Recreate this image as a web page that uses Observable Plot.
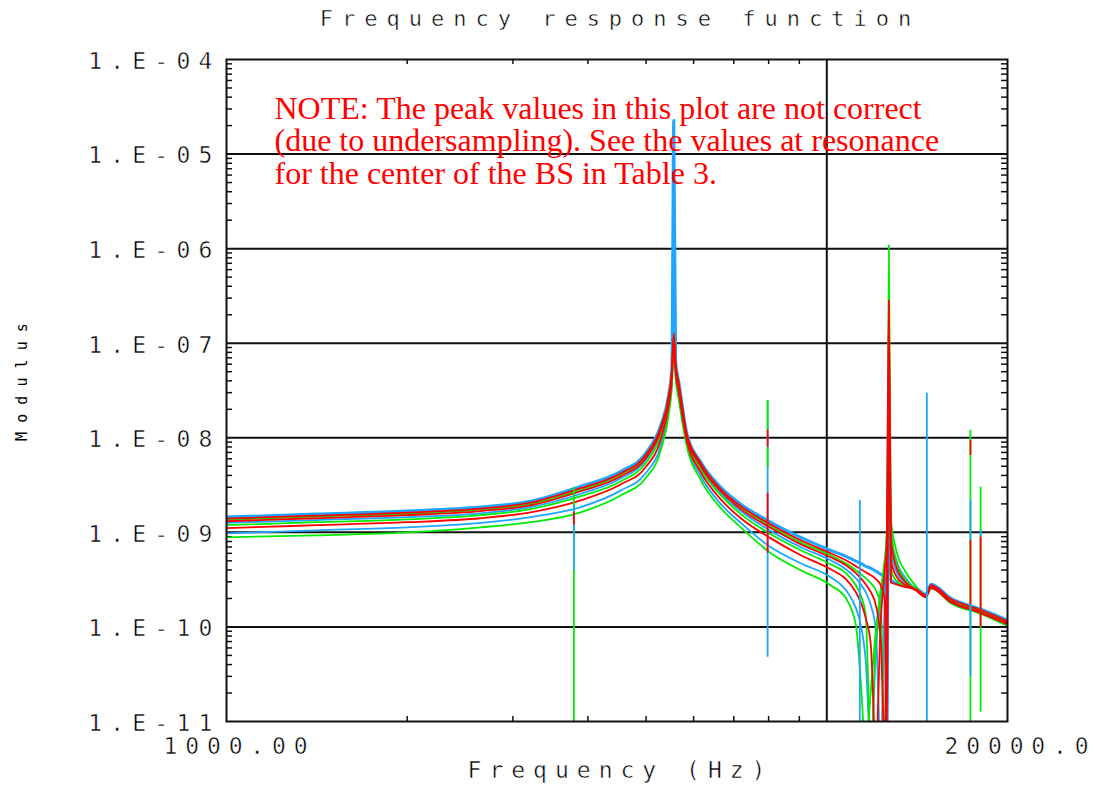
<!DOCTYPE html>
<html><head><meta charset="utf-8">
<script src="https://cdn.jsdelivr.net/npm/d3@7"></script>
<script src="https://cdn.jsdelivr.net/npm/@observablehq/plot@0.6"></script>
<style>
html,body{margin:0;padding:0;background:#fff;}
</style></head><body><div id="chart"></div>
<script>
// ---- data (Modulus vs frequency) ----
const freq = [1000, 1410, 2000, 2650, 3210, 3890, 4540, 4990, 5290, 5450, 5520, 5560, 5600, 5670, 5840, 6170, 6660, 7190, 8070, 9050, 10150, 10760, 11180, 11390, 11610, 11840, 12070, 12300, 12490, 12590, 12690, 12790, 13030, 13540, 14070, 14620, 14910, 16090, 18060, 20000];

const c9 = [1.45e-9, 1.56e-9, 1.68e-9, 1.85e-9, 2.14e-9, 3.07e-9, 4.42e-9, 6.85e-9, 1.36e-8, 2.82e-8, 5.42e-8, 2.27e-5, 6.27e-8, 3.86e-8, 1.15e-8, 5.50e-9, 3.00e-9, 1.99e-9, 1.28e-9, 8.86e-10, 6.46e-10, 5.58e-10, 4.95e-10, 4.71e-10, 4.38e-10, 4.17e-10, 3.88e-10, 3.61e-10, 3.35e-10, 5e-12, 4.04e-8, 3.12e-10, 2.90e-10, 2.70e-10, 2.57e-10, 2.22e-10, 2.83e-10, 2.01e-10, 1.54e-10, 1.18e-10];
const c8 = [1.40e-9, 1.50e-9, 1.62e-9, 1.78e-9, 2.06e-9, 2.93e-9, 4.21e-9, 6.52e-9, 1.29e-8, 2.68e-8, 5.16e-8, 1.28e-7, 5.98e-8, 3.68e-8, 1.12e-8, 5.37e-9, 2.85e-9, 1.89e-9, 1.21e-9, 8.24e-10, 6.01e-10, 5.07e-10, 4.38e-10, 4.07e-10, 3.79e-10, 3.52e-10, 3.20e-10, 2.76e-10, 1.92e-10, 5e-12, 1.37e-7, 2.97e-10, 2.83e-10, 2.63e-10, 2.51e-10, 2.17e-10, 2.76e-10, 1.97e-10, 1.51e-10, 1.15e-10];
const c7 = [1.36e-9, 1.47e-9, 1.57e-9, 1.74e-9, 1.99e-9, 2.82e-9, 4.11e-9, 6.37e-9, 1.26e-8, 2.62e-8, 5.04e-8, 1.22e-7, 5.83e-8, 3.59e-8, 1.09e-8, 5.24e-9, 2.78e-9, 1.85e-9, 1.16e-9, 7.84e-10, 5.72e-10, 4.71e-10, 3.98e-10, 3.61e-10, 3.27e-10, 2.90e-10, 2.45e-10, 1.70e-10, 5e-12, 1.92e-10, 1.09e-6, 3.98e-10, 3.12e-10, 2.70e-10, 2.51e-10, 2.17e-10, 2.70e-10, 1.92e-10, 1.47e-10, 1.13e-10];
const c6 = [1.31e-9, 1.41e-9, 1.52e-9, 1.68e-9, 1.93e-9, 2.72e-9, 3.92e-9, 6.06e-9, 1.20e-8, 2.56e-8, 4.92e-8, 1.15e-7, 5.69e-8, 3.50e-8, 1.07e-8, 4.99e-9, 2.72e-9, 1.76e-9, 1.11e-9, 7.47e-10, 5.45e-10, 4.49e-10, 3.70e-10, 3.27e-10, 2.83e-10, 2.33e-10, 1.70e-10, 7.22e-11, 5e-12, 5.07e-10, 2.84e-7, 5.07e-10, 3.52e-10, 2.76e-10, 2.45e-10, 2.11e-10, 2.63e-10, 1.87e-10, 1.43e-10, 1.10e-10];
const c5 = [1.26e-9, 1.35e-9, 1.45e-9, 1.59e-9, 1.85e-9, 2.56e-9, 3.73e-9, 5.78e-9, 1.15e-8, 2.43e-8, 4.80e-8, 8.56e-6, 5.56e-8, 3.42e-8, 1.04e-8, 4.87e-9, 2.59e-9, 1.68e-9, 1.03e-9, 6.95e-10, 5.07e-10, 4.07e-10, 3.27e-10, 2.83e-10, 2.33e-10, 1.70e-10, 9.21e-11, 5e-12, 1.92e-10, 5.07e-10, 1.37e-7, 6.46e-10, 3.98e-10, 2.90e-10, 2.45e-10, 2.11e-10, 2.57e-10, 1.87e-10, 1.43e-10, 1.10e-10];
const c4 = [1.19e-9, 1.28e-9, 1.37e-9, 1.52e-9, 1.76e-9, 2.41e-9, 3.47e-9, 5.37e-9, 1.07e-8, 2.32e-8, 4.58e-8, 1.13e-7, 5.29e-8, 3.26e-8, 1.02e-8, 4.64e-9, 2.47e-9, 1.56e-9, 9.53e-10, 6.46e-10, 4.60e-10, 3.70e-10, 2.76e-10, 2.17e-10, 1.33e-10, 5e-12, 7.22e-11, 2.45e-10, 5.07e-10, 1.05e-9, 9.39e-9, 1.05e-9, 5.07e-10, 3.12e-10, 2.51e-10, 2.11e-10, 2.57e-10, 1.87e-10, 1.43e-10, 1.07e-10];
const c3 = [1.11e-9, 1.19e-9, 1.28e-9, 1.41e-9, 1.63e-9, 2.18e-9, 3.22e-9, 4.87e-9, 9.62e-9, 2.16e-8, 4.24e-8, 1.08e-7, 5.04e-8, 3.02e-8, 9.62e-9, 4.30e-9, 2.23e-9, 1.41e-9, 8.64e-10, 5.72e-10, 4.07e-10, 3.20e-10, 2.33e-10, 1.83e-10, 1.24e-10, 6.40e-11, 5e-12, 1.18e-10, 3.98e-10, 8.24e-10, 1.53e-8, 8.24e-10, 4.49e-10, 2.97e-10, 2.45e-10, 2.06e-10, 2.57e-10, 1.83e-10, 1.40e-10, 1.07e-10];
const c2 = [9.76e-10, 1.05e-9, 1.13e-9, 1.26e-9, 1.45e-9, 1.85e-9, 2.78e-9, 4.21e-9, 8.31e-9, 1.91e-8, 3.86e-8, 1.08e-7, 4.58e-8, 2.74e-8, 8.94e-9, 3.92e-9, 1.99e-9, 1.26e-9, 6.95e-10, 4.71e-10, 3.35e-10, 2.45e-10, 1.58e-10, 1.05e-10, 4.43e-11, 5e-12, 5.66e-11, 1.92e-10, 4.49e-10, 8.24e-10, 4.52e-9, 1.05e-9, 5.32e-10, 3.27e-10, 2.51e-10, 2.06e-10, 2.57e-10, 1.83e-10, 1.40e-10, 1.07e-10];
const c1 = [8.86e-10, 9.30e-10, 1.00e-9, 1.13e-9, 1.28e-9, 1.63e-9, 2.47e-9, 3.73e-9, 7.37e-9, 1.73e-8, 3.59e-8, 1.03e-7, 4.24e-8, 2.48e-8, 8.31e-9, 3.55e-9, 1.80e-9, 1.13e-9, 6.01e-10, 3.98e-10, 2.76e-10, 2.01e-10, 1.05e-10, 2.72e-11, 5e-12, 2.14e-11, 9.21e-11, 2.45e-10, 5.07e-10, 9.30e-10, 5.78e-9, 1.35e-9, 6.78e-10, 3.79e-10, 2.70e-10, 2.06e-10, 2.57e-10, 1.78e-10, 1.37e-10, 1.02e-10];

// drawing order and colour family of each curve
const seriesValues = [c9, c5, c2, c7, c4, c1, c8, c6, c3];
const seriesFamily = ["blue", "blue", "blue", "green", "green", "green", "red", "red", "red"];

// undersampled spikes: frequency, top and bottom modulus, colour family
const spikeFreq   = [3790, 3790, 3790, 7970, 7970, 7970, 7970, 7970, 11350, 14680, 17350, 17350, 17350, 17350, 17350, 18040, 18040, 18040];
const spikeTop    = [3.00e-9, 1.93e-9, 1.63e-9, 2.48e-8, 2.48e-8, 1.20e-8, 7.92e-9, 2.59e-9, 2.18e-9, 2.95e-8, 1.20e-8, 9.4e-9, 2.2e-9, 8.2e-10, 1.7e-10, 3.00e-9, 1.05e-9, 8.9e-10];
const spikeBottom = [5e-12, 3.98e-10, 1.19e-9, 4.77e-11, 1.20e-8, 7.92e-9, 4.87e-9, 6.01e-10, 5e-12, 5e-12, 5e-12, 6.5e-9, 8.2e-10, 1.7e-10, 3e-11, 1.26e-11, 8.9e-10, 1.0e-10];
const spikeFamily = ["green", "blue", "red", "blue", "green", "red", "green", "red", "blue", "blue", "green", "red", "blue", "red", "blue", "green", "blue", "red"];

// axes
const yTickValues = [1e-4, 1e-5, 1e-6, 1e-7, 1e-8, 1e-9, 1e-10, 1e-11];
const yTickLabels = ["1.E-04", "1.E-05", "1.E-06", "1.E-07", "1.E-08", "1.E-09", "1.E-10", "1.E-11"];
const yGridValues = [1e-5, 1e-6, 1e-7, 1e-8, 1e-9, 1e-10];
const xTickValues = [1000, 20000];
const xTickLabels = ["1000.00", "20000.0"];
const xGridValues = [10000];
const xMinorValues = [2000, 3000, 4000, 5000, 6000, 7000, 8000, 9000];
const minorMantissas = [2, 3, 4, 5, 6, 7, 8, 9];
const yDecades = [1e-11, 1e-10, 1e-9, 1e-8, 1e-7, 1e-6, 1e-5];

const titleText = "Frequency response function";
const xLabelText = "Frequency (Hz)";
const yLabelText = "Modulus";
const noteText = "NOTE: The peak values in this plot are not correct\n(due to undersampling). See the values at resonance\nfor the center of the BS in Table 3.";

// ---- styles ----
const palette = {blue: "#1ea5ff", green: "#00ec00", red: "#ff0000"};
const ink = "#111";
const W = 1099, H = 787, mL = 226, mR = 92, mT = 59, mB = 66;
const innerW = W - mL - mR, innerH = H - mT - mB;
const monoFont = "DejaVu Sans Mono";
const thin = {stroke: "#fff", strokeWidth: 0.5, paintOrder: "fill"};

const yMinorValues = yDecades.flatMap(d => minorMantissas.map(m => m * d));

const curveMarks = seriesValues.map((vals, k) =>
  Plot.line(freq.map((f, i) => ({f, v: vals[i]})), {
    x: "f", y: "v", stroke: palette[seriesFamily[k]], curve: "monotone-x",
    strokeWidth: k === 0 ? 3 : 1.8, clip: true
  })
);

const spikeRows = spikeFreq.map((f, i) => ({f, top: spikeTop[i], bottom: spikeBottom[i], c: palette[spikeFamily[i]]}));

const chart = Plot.plot({
  width: W, height: H,
  marginLeft: mL, marginRight: mR, marginTop: mT, marginBottom: mB,
  x: {type: "log", domain: [1000, 20000], axis: null},
  y: {type: "log", domain: [1e-11, 1e-4], axis: null},
  color: {type: "identity"},
  style: {background: "#fff", overflow: "visible"},
  marks: [
    Plot.ruleY(yGridValues, {stroke: ink, strokeWidth: 2}),
    Plot.ruleX(xGridValues, {stroke: ink, strokeWidth: 2}),
    Plot.ruleY(yMinorValues, {stroke: ink, strokeWidth: 1.5, insetRight: innerW - 6}),
    Plot.ruleY(yMinorValues, {stroke: ink, strokeWidth: 1.5, insetLeft: innerW - 6}),
    Plot.ruleX(xMinorValues, {stroke: ink, strokeWidth: 1.5, insetBottom: innerH - 5}),
    Plot.ruleX(xMinorValues, {stroke: ink, strokeWidth: 1.5, insetTop: innerH - 5}),
    ...curveMarks,
    Plot.ruleX(spikeRows, {x: "f", y1: "bottom", y2: "top", stroke: "c", strokeWidth: 1.8, clip: true}),
    Plot.frame({stroke: ink, strokeWidth: 2}),
    Plot.text(yTickValues.map((v, i) => ({v, t: yTickLabels[i]})), {
      y: "v", text: "t", frameAnchor: "left", textAnchor: "end", lineAnchor: "middle",
      dx: -6, dy: 2, fontFamily: monoFont, fontSize: 23, fill: "#000", ...thin
    }),
    Plot.text(xTickValues.map((v, i) => ({v, t: xTickLabels[i]})), {
      x: "v", text: "t", frameAnchor: "bottom", textAnchor: "middle", lineAnchor: "middle",
      dx: 13, dy: 25, fontFamily: monoFont, fontSize: 23, fill: "#000", ...thin
    }),
    Plot.text([titleText], {
      text: d => d, frameAnchor: "top", textAnchor: "middle", lineAnchor: "middle", dx: 3, dy: -41,
      fontFamily: monoFont, fontSize: 22, fill: "#000", ...thin
    }),
    Plot.text([xLabelText], {
      text: d => d, frameAnchor: "bottom", textAnchor: "middle", lineAnchor: "middle", dx: 3.5, dy: 49,
      fontFamily: monoFont, fontSize: 23, fill: "#000", ...thin
    }),
    Plot.text([yLabelText], {
      text: d => d, frameAnchor: "left", textAnchor: "middle", lineAnchor: "middle",
      dx: -204, dy: -13, rotate: -90,
      fontFamily: monoFont, fontSize: 15, fill: "#000"
    }),
    Plot.text([noteText], {
      text: d => d, frameAnchor: "top-left", dx: 48, dy: 36,
      textAnchor: "start", lineAnchor: "top", lineHeight: 1.02,
      fontFamily: "Liberation Serif", fontSize: 32, fill: "#ff0000"
    })
  ]
});
document.getElementById("chart").appendChild(chart);

// letter-spaced vector-style lettering of the original plotter output
const spacing = new Map([
  [titleText, 9], [xLabelText, 8], [yLabelText, 9.1],
  ...yTickLabels.map(t => [t, 8.2]), ...xTickLabels.map(t => [t, 7.85])
]);
d3.select(chart).selectAll("text").each(function() {
  const s = spacing.get(this.textContent);
  if (s !== undefined) this.style.letterSpacing = s + "px";
});
</script>
</body></html>
